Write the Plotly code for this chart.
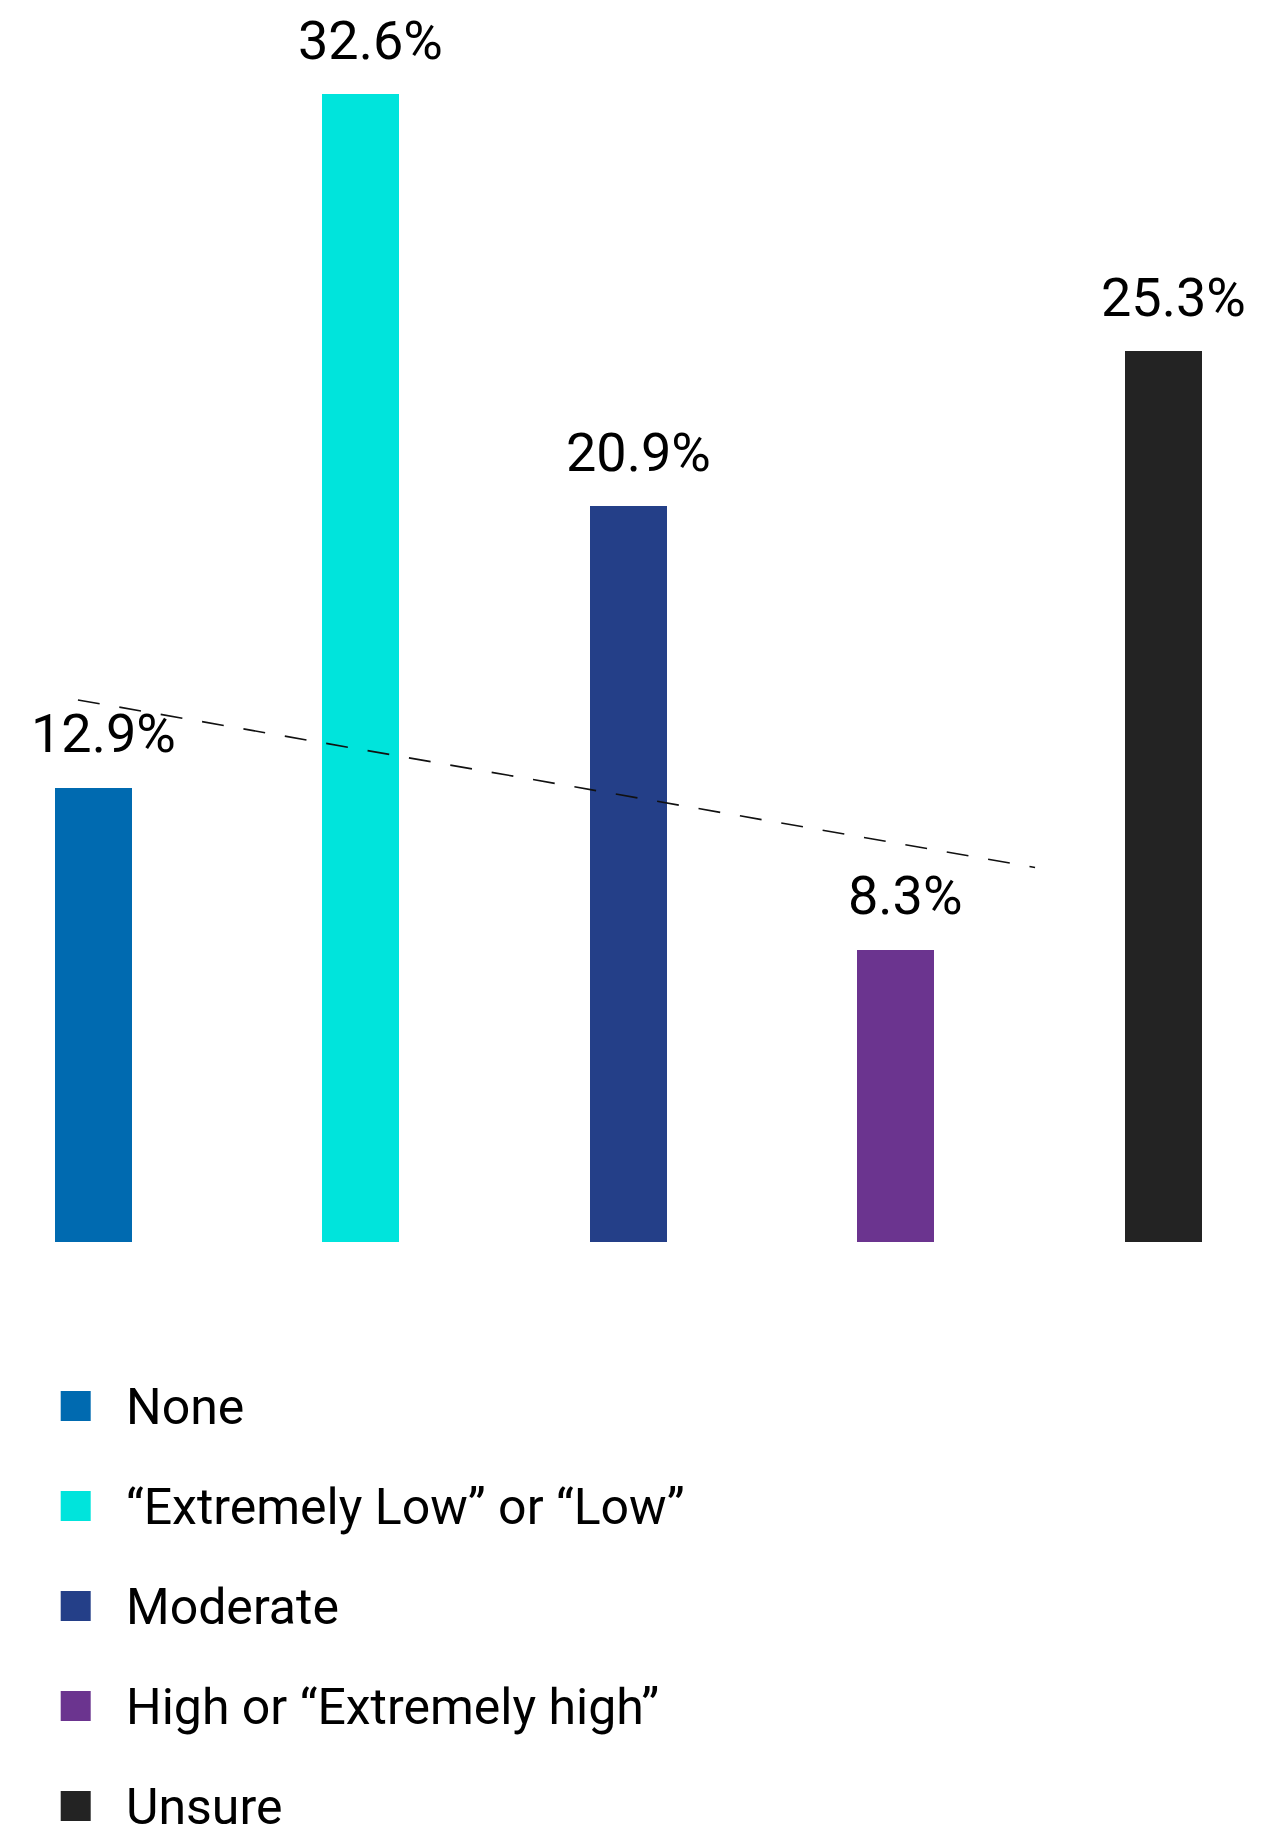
import plotly.graph_objects as go

# ---- data ----
categories = ["None", "\u201cExtremely Low\u201d or \u201cLow\u201d", "Moderate",
              "High or \u201cExtremely high\u201d", "Unsure"]
values = [12.9, 32.6, 20.9, 8.3, 25.3]
value_labels = ["12.9%", "32.6%", "20.9%", "8.3%", "25.3%"]
colors = ["#006AB0", "#00E4DC", "#243F88", "#6B348F", "#232323"]
trend_x = [-0.057, 3.521]
trend_y = [15.40, 10.64]

W, H = 1261, 1826
base_px = 1242          # pixel row of the bar baseline
px_per_unit = 35.2
x0_px, step_px = 93.2, 267.5

xs = list(range(len(values)))

fig = go.Figure()
fig.add_trace(go.Bar(
    x=xs, y=values, marker=dict(color=colors, line=dict(width=0)),
    width=76.8 / step_px, showlegend=False, hoverinfo="skip",
    xaxis="x", yaxis="y"))
fig.add_trace(go.Scatter(
    x=trend_x, y=trend_y, mode="lines",
    line=dict(color="#111111", width=1.6, dash="22px,20px"),
    showlegend=False, hoverinfo="skip", xaxis="x", yaxis="y"))

# legend drawn on a pixel-scaled helper axis
leg_y = [1406 + i * 100 for i in range(len(categories))]
fig.add_trace(go.Scatter(
    x=[75.7] * len(categories), y=leg_y, mode="markers",
    marker=dict(symbol="square", size=30, color=colors, line=dict(width=0)),
    showlegend=False, hoverinfo="skip", xaxis="x2", yaxis="y2", cliponaxis=False))

annotations = []
for xi, v, lab in zip(xs, values, value_labels):
    annotations.append(dict(
        x=xi, y=v, xref="x", yref="y", text=lab, showarrow=False,
        xanchor="center", yanchor="middle", xshift=10, yshift=54,
        font=dict(family="Roboto", size=54, color="#000000")))
for yy, cat in zip(leg_y, categories):
    annotations.append(dict(
        x=124, y=yy, xref="x2", yref="y2", text=cat, showarrow=False,
        xanchor="left", yanchor="middle", yshift=-1,
        font=dict(family="Roboto", size=50, color="#000000")))

split = (H - base_px) / H
fig.update_layout(
    width=W, height=H,
    margin=dict(l=0, r=0, t=0, b=0),
    paper_bgcolor="white", plot_bgcolor="white",
    xaxis=dict(domain=[0, 1], range=[(0 - x0_px) / step_px, (W - x0_px) / step_px],
               visible=False, fixedrange=True),
    yaxis=dict(domain=[split, 1], range=[0, base_px / px_per_unit],
               visible=False, fixedrange=True),
    xaxis2=dict(domain=[0, 1], range=[0, W], visible=False, anchor="y2"),
    yaxis2=dict(domain=[0, split], range=[H, base_px], visible=False, anchor="x2"),
    annotations=annotations,
    showlegend=False,
    bargap=0,
)

fig.write_html("out.html", config={"displayModeBar": False})
